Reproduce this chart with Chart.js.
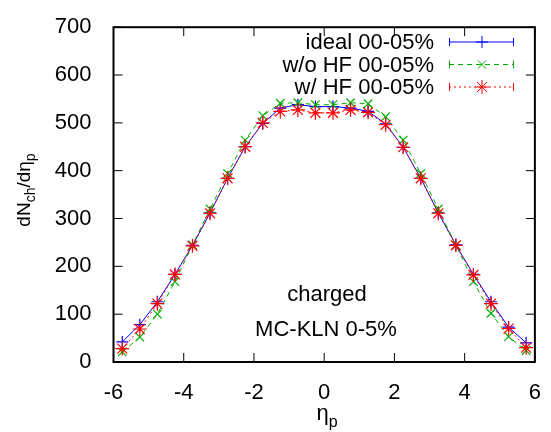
<!DOCTYPE html>
<html>
<head>
<meta charset="utf-8">
<script src="https://cdn.jsdelivr.net/npm/chart.js@4.4.1/dist/chart.umd.min.js"></script>
<style>
  body { margin: 0; background: #fff; }
  #box { width: 551px; height: 432px; }
</style>
</head>
<body>
<div id="box"><canvas id="grafico" width="551" height="432"></canvas></div>
<script>
// pseudorapidity bins
const eta = [-5.75, -5.25, -4.75, -4.25, -3.75, -3.25, -2.75, -2.25, -1.75, -1.25, -0.75, -0.25,
             0.25, 0.75, 1.25, 1.75, 2.25, 2.75, 3.25, 3.75, 4.25, 4.75, 5.25, 5.75];
const ideal = [42, 78, 126, 183, 244, 312, 384, 450, 499, 531, 538, 534,
               534, 531, 524, 498, 449, 384, 312, 245, 183, 126, 73, 40];
const sinHF = [21, 52, 100, 168, 245, 320, 394, 464, 515, 541, 542, 538,
               538, 542, 540, 513, 464, 394, 320, 244, 168, 102, 53, 24];
const conHF = [28, 69, 122, 183, 243, 311, 384, 450, 500, 524, 527, 521,
               521, 527, 522, 496, 449, 384, 311, 244, 182, 122, 70, 30];
const etiquetas = ["ideal 00-05%", "w/o HF 00-05%", "w/ HF 00-05%"];
const ticksX = [-6, -4, -2, 0, 2, 4, 6];
const ticksY = [0, 100, 200, 300, 400, 500, 600, 700];

const fuente = "'Liberation Sans', Arial, sans-serif";
const azul = "#0000ff";
const verde = "#00b000";
const rojo = "#ff0000";

function puntos(valores) {
  return eta.map((e, i) => ({x: e, y: valores[i]}));
}

const series = [
  {label: etiquetas[0], data: puntos(ideal), color: azul, dash: [], estilo: "cross", radio: 6},
  {label: etiquetas[1], data: puntos(sinHF), color: verde, dash: [5, 4], estilo: "crossRot", radio: 6},
  {label: etiquetas[2], data: puntos(conHF), color: rojo, dash: [2, 3], estilo: "star", radio: 7}
];

// marco, ticks hacia dentro, leyenda y textos (estilo gnuplot)
const extras = {
  id: "extras",
  afterDraw(chart) {
    const ctx = chart.ctx;
    const a = chart.chartArea;
    const sx = chart.scales.x;
    const sy = chart.scales.y;
    ctx.save();
    ctx.strokeStyle = "#000";
    ctx.lineWidth = 1;
    ctx.beginPath();
    ticksX.forEach(t => {
      const px = sx.getPixelForValue(t);
      ctx.moveTo(px, a.bottom); ctx.lineTo(px, a.bottom - 9);
      ctx.moveTo(px, a.top); ctx.lineTo(px, a.top + 9);
    });
    ticksY.forEach(t => {
      const py = sy.getPixelForValue(t);
      ctx.moveTo(a.left, py); ctx.lineTo(a.left + 9, py);
      ctx.moveTo(a.right, py); ctx.lineTo(a.right - 9, py);
    });
    ctx.stroke();
    ctx.lineWidth = 2;
    ctx.strokeRect(a.left, a.top, a.right - a.left, a.bottom - a.top);

    // leyenda
    ctx.font = "22px " + fuente;
    ctx.textAlign = "right";
    ctx.textBaseline = "middle";
    series.forEach((s, i) => {
      const y = 42 + i * 22.5;
      ctx.fillStyle = "#000";
      ctx.fillText(s.label, 434, y + 1);
      ctx.strokeStyle = s.color;
      ctx.lineWidth = 1;
      ctx.setLineDash(s.dash);
      ctx.beginPath();
      ctx.moveTo(449, y); ctx.lineTo(514, y);
      ctx.stroke();
      ctx.setLineDash([]);
      ctx.beginPath();
      ctx.moveTo(449.5, y - 4); ctx.lineTo(449.5, y + 4);
      ctx.moveTo(513.5, y - 4); ctx.lineTo(513.5, y + 4);
      ctx.stroke();
      Chart.helpers.drawPoint(ctx, {pointStyle: s.estilo, radius: s.radio, borderWidth: 1.2, rotation: 0}, 482, y);
    });

    // anotaciones
    ctx.fillStyle = "#000";
    ctx.textAlign = "center";
    ctx.textBaseline = "alphabetic";
    ctx.fillText("charged", 327, 301);
    ctx.fillText("MC-KLN 0-5%", 326, 336);

    // titulo eje x
    ctx.textAlign = "left";
    const wEta = ctx.measureText("η").width;
    ctx.font = "16px " + fuente;
    const wP = ctx.measureText("p").width;
    let x0 = 327 - (wEta + wP) / 2;
    ctx.font = "22px " + fuente;
    ctx.fillText("η", x0, 420);
    ctx.font = "16px " + fuente;
    ctx.fillText("p", x0 + wEta, 427);

    // titulo eje y
    const partes = [["dN", 19, 0], ["ch", 14, 5], ["/dη", 19, 0], ["p", 14, 5]];
    let total = 0;
    partes.forEach(p => { ctx.font = p[1] + "px " + fuente; total += ctx.measureText(p[0]).width; });
    ctx.translate(30, 190);
    ctx.rotate(-Math.PI / 2);
    let cx = -total / 2;
    partes.forEach(p => {
      ctx.font = p[1] + "px " + fuente;
      ctx.fillText(p[0], cx, p[2]);
      cx += ctx.measureText(p[0]).width;
    });
    ctx.restore();
  }
};

const ctx = document.getElementById("grafico").getContext("2d");
new Chart(ctx, {
  type: "line",
  data: {
    datasets: series.map((s, i) => ({
      label: s.label,
      data: s.data,
      borderColor: s.color,
      backgroundColor: s.color,
      borderWidth: 1,
      borderDash: s.dash,
      pointStyle: s.estilo,
      pointRadius: s.radio,
      pointBorderWidth: 1.2,
      pointBorderColor: s.color,
      tension: 0,
      fill: false,
      order: 3 - i
    }))
  },
  options: {
    responsive: false,
    animation: false,
    devicePixelRatio: 1,
    layout: { padding: { top: 21, right: 9, left: 0, bottom: 0 } },
    scales: {
      x: {
        type: "linear",
        min: -6,
        max: 6,
        afterFit: s => { s.height = 70; },
        afterBuildTicks: s => { s.ticks = ticksX.map(v => ({value: v})); },
        grid: { display: false },
        border: { display: false },
        ticks: { color: "#000", font: { size: 22, family: fuente }, padding: 10 }
      },
      y: {
        type: "linear",
        min: 0,
        max: 700,
        afterFit: s => { s.width = 113.5; },
        afterBuildTicks: s => { s.ticks = ticksY.map(v => ({value: v})); },
        grid: { display: false },
        border: { display: false },
        ticks: { color: "#000", font: { size: 22, family: fuente }, padding: 14 }
      }
    },
    plugins: {
      legend: { display: false },
      tooltip: { enabled: false }
    }
  },
  plugins: [extras]
});
</script>
</body>
</html>
